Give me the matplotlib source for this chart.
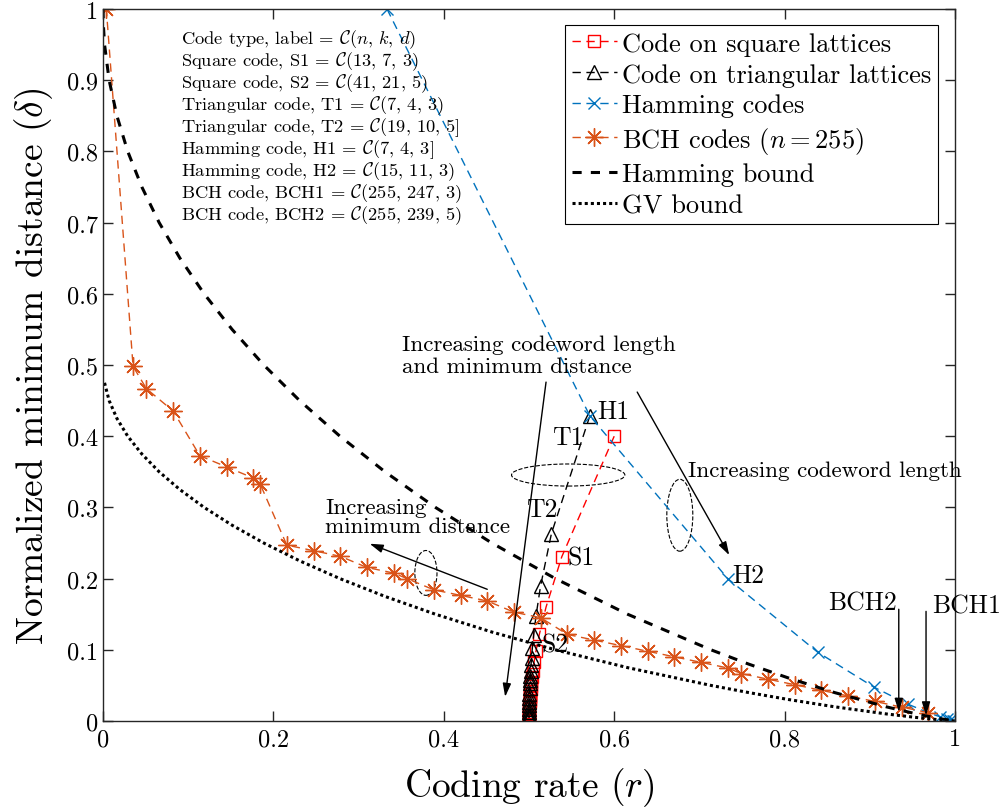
import numpy as np
import matplotlib
matplotlib.use("Agg")
import matplotlib.pyplot as plt
from matplotlib.patches import Ellipse
from matplotlib.ticker import FuncFormatter

plt.rcParams['font.family'] = 'serif'
plt.rcParams['font.serif'] = ['cmr10']
plt.rcParams['mathtext.fontset'] = 'cm'
plt.rcParams['axes.formatter.use_mathtext'] = True

# ---- data (rate r, normalized distance delta) ----
# codes on square lattices
sq_rate = [0.6000, 0.5385, 0.5200, 0.5122, 0.5082, 0.5059, 0.5044, 0.5034, 0.5028, 0.5023,
           0.5019, 0.5016, 0.5014, 0.5012, 0.5010, 0.5008, 0.5007, 0.5004, 0.5003, 0.5002,
           0.5001, 0.5001, 0.5000, 0.5000, 0.5000, 0.5000]
sq_delta = [0.4000, 0.2308, 0.1600, 0.1220, 0.0984, 0.0824, 0.0708, 0.0621, 0.0552, 0.0498,
            0.0453, 0.0415, 0.0384, 0.0356, 0.0333, 0.0294, 0.0263, 0.0208, 0.0172, 0.0128,
            0.0102, 0.0072, 0.0051, 0.0025, 0.0010, 0.0005]

# codes on triangular lattices
tri_rate = [0.5714, 0.5263, 0.5135, 0.5082, 0.5055, 0.5039, 0.5030, 0.5023, 0.5018, 0.5015,
            0.5013, 0.5011, 0.5008, 0.5005, 0.5004, 0.5003, 0.5002, 0.5001, 0.5001, 0.5000,
            0.5000, 0.5000]
tri_delta = [0.4286, 0.2632, 0.1892, 0.1475, 0.1209, 0.1024, 0.0888, 0.0783, 0.0701, 0.0634,
             0.0579, 0.0533, 0.0460, 0.0381, 0.0325, 0.0261, 0.0219, 0.0165, 0.0132, 0.0088,
             0.0066, 0.0044]

# Hamming codes
ham_rate = [0.3333, 0.5714, 0.7333, 0.8387, 0.9048, 0.9449, 0.9686, 0.9824, 0.9902, 0.9946,
            0.9971, 0.9984]
ham_delta = [1.0000, 0.4286, 0.2000, 0.0968, 0.0476, 0.0236, 0.0118, 0.0059, 0.0029, 0.0015,
             0.0007, 0.0004]

# BCH codes, n = 255
bch_rate = [0.9686, 0.9373, 0.9059, 0.8745, 0.8431, 0.8118, 0.7804, 0.7490, 0.7333, 0.7020,
            0.6706, 0.6392, 0.6078, 0.5765, 0.5451, 0.5137, 0.4824, 0.4510, 0.4196, 0.3882,
            0.3569, 0.3412, 0.3098, 0.2784, 0.2471, 0.2157, 0.1843, 0.1765, 0.1451, 0.1137,
            0.0824, 0.0510, 0.0353, 0.0039]
bch_delta = [0.0118, 0.0196, 0.0275, 0.0353, 0.0431, 0.0510, 0.0588, 0.0667, 0.0745, 0.0824,
             0.0902, 0.0980, 0.1059, 0.1137, 0.1216, 0.1451, 0.1529, 0.1686, 0.1765, 0.1843,
             0.2000, 0.2078, 0.2157, 0.2314, 0.2392, 0.2471, 0.3333, 0.3412, 0.3569, 0.3725,
             0.4353, 0.4667, 0.4980, 1.0000]

# bounds
hb_rate = [0.0000, 0.0003, 0.0018, 0.0072, 0.0163, 0.0290, 0.0456, 0.0659, 0.0903, 0.1187,
           0.1515, 0.1887, 0.2308, 0.2781, 0.3310, 0.3902, 0.4564, 0.5310, 0.6157, 0.7136,
           0.7577, 0.8056, 0.8586, 0.9192, 0.9546, 0.9792, 1.0000]
hb_delta = [1.000, 0.980, 0.950, 0.900, 0.850, 0.800, 0.750, 0.700, 0.650, 0.600,
            0.550, 0.500, 0.450, 0.400, 0.350, 0.300, 0.250, 0.200, 0.150, 0.100,
            0.080, 0.060, 0.040, 0.020, 0.010, 0.004, 0.000]

gv_rate = [0.0018, 0.0072, 0.0163, 0.0290, 0.0456, 0.0659, 0.0903, 0.1187,
           0.1515, 0.1887, 0.2308, 0.2781, 0.3310, 0.3902, 0.4564, 0.5310, 0.6157, 0.7136,
           0.7577, 0.8056, 0.8586, 0.9192, 0.9546, 0.9792, 1.0000]
gv_delta = [0.475, 0.450, 0.425, 0.400, 0.375, 0.350, 0.325, 0.300,
            0.275, 0.250, 0.225, 0.200, 0.175, 0.150, 0.125, 0.100, 0.075, 0.050,
            0.040, 0.030, 0.020, 0.010, 0.005, 0.002, 0.000]

info_lines = [
    r"Code type, label = $\mathcal{C}(n,\,k,\,d)$",
    r"Square code, S1 = $\mathcal{C}(13,\,7,\,3)$",
    r"Square code, S2 = $\mathcal{C}(41,\,21,\,5)$",
    r"Triangular code, T1 = $\mathcal{C}(7,\,4,\,3)$",
    r"Triangular code, T2 = $\mathcal{C}(19,\,10,\,5]$",
    r"Hamming code, H1 = $\mathcal{C}(7,\,4,\,3]$",
    r"Hamming code, H2 = $\mathcal{C}(15,\,11,\,3)$",
    r"BCH code, BCH1 = $\mathcal{C}(255,\,247,\,3)$",
    r"BCH code, BCH2 = $\mathcal{C}(255,\,239,\,5)$",
]

blue = (0, 0.447, 0.741)
orange = (0.85, 0.325, 0.098)

fig = plt.figure(figsize=(10.02, 8.12), dpi=100)
ax = fig.add_axes([0.1028, 0.1108, 0.8503, 0.8769])

ax.plot(sq_rate, sq_delta, color='red', ls='--', dashes=(6, 4), lw=1, marker='s',
        ms=9, mfc='none', mec='red', mew=1, label='Code on square lattices')
ax.plot(tri_rate, tri_delta, color='black', ls='--', dashes=(6, 4), lw=1, marker='^',
        ms=10, mfc='none', mec='black', mew=1, label='Code on triangular lattices')
ax.plot(ham_rate, ham_delta, color=blue, ls='--', dashes=(6, 4), lw=1, marker='x',
        ms=9, mew=1, label='Hamming codes')
ax.plot(bch_rate, bch_delta, color=orange, ls='--', dashes=(6, 4), lw=1, marker=(8, 2, 0),
        ms=13, mew=1, label=r'BCH codes ($n=255$)')
ax.plot(hb_rate, hb_delta, color='black', ls='--', dashes=(3, 3), lw=2.2, label='Hamming bound')
ax.plot(gv_rate, gv_delta, color='black', ls=':', dashes=(1, 1), lw=2.2, label='GV bound')

ax.set_xlim(0, 1)
ax.set_ylim(0, 1)
ax.set_xticks([0, 0.2, 0.4, 0.6, 0.8, 1])
ax.set_yticks(np.arange(0, 1.01, 0.1))
fmt = FuncFormatter(lambda v, p: '%g' % round(v, 2))
ax.xaxis.set_major_formatter(fmt)
ax.yaxis.set_major_formatter(fmt)
ax.tick_params(direction='in', top=True, right=True, length=7, width=1,
               labelsize=17.5, colors=(0.15, 0.15, 0.15), labelcolor='black')
ax.tick_params(axis='x', pad=5)
for s in ax.spines.values():
    s.set_color((0.15, 0.15, 0.15))
    s.set_linewidth(1)

ax.set_xlabel(r'Coding rate ($r$)', fontsize=27, labelpad=11)
ax.set_ylabel(r'Normalized minimum distance ($\delta$)', fontsize=27, labelpad=9)

leg = ax.legend(loc='upper right', bbox_to_anchor=(0.98, 0.977), fontsize=19,
                handlelength=1.7, handletextpad=0.2, borderpad=0.25, labelspacing=0.27,
                borderaxespad=0, fancybox=False, framealpha=1, edgecolor='black')
leg.get_frame().set_linewidth(0.8)

# info block
for i, t in enumerate(info_lines):
    ax.text(0.0915, 0.958 - i * 0.0309, t, fontsize=13.3, va='center', ha='left')

# point labels
lbl = dict(fontsize=18.5, va='center', ha='left')
ax.text(0.580, 0.435, 'H1', **lbl)
ax.text(0.527, 0.399, 'T1', **lbl)
ax.text(0.497, 0.298, 'T2', **lbl)
ax.text(0.545, 0.230, 'S1', **lbl)
ax.text(0.515, 0.107, 'S2', **lbl)
ax.text(0.739, 0.205, 'H2', **lbl)
ax.text(0.851, 0.166, 'BCH2', **lbl)
ax.text(0.973, 0.162, 'BCH1', clip_on=False, **lbl)

# annotations
ax.text(0.351, 0.514, 'Increasing codeword length\nand minimum distance', fontsize=16.6,
        va='center', ha='left', linespacing=1.15)
ax.text(0.687, 0.3525, 'Increasing codeword length', fontsize=16.6, va='center', ha='left')
ax.text(0.2606, 0.287, 'Increasing\nminimum distance', fontsize=16.6, va='center', ha='left',
        linespacing=1.0)

arr = dict(arrowstyle='-|>,head_length=0.8,head_width=0.25', color='black', lw=1,
           shrinkA=0, shrinkB=0)
ax.annotate('', xy=(0.472, 0.034), xytext=(0.520, 0.476), arrowprops=arr)
ax.annotate('', xy=(0.735, 0.233), xytext=(0.627, 0.462), arrowprops=arr)
ax.annotate('', xy=(0.313, 0.249), xytext=(0.451, 0.185), arrowprops=arr)
ax.annotate('', xy=(0.934, 0.013), xytext=(0.934, 0.157), arrowprops=arr)
ax.annotate('', xy=(0.966, 0.008), xytext=(0.966, 0.154), arrowprops=arr)

# dashed ellipses
for cx, cy, w, h in [(0.546, 0.3455, 0.133, 0.031), (0.677, 0.289, 0.0305, 0.101),
                     (0.379, 0.208, 0.026, 0.063)]:
    ax.add_patch(Ellipse((cx, cy), w, h, fill=False, ls='--', lw=0.8, ec='black'))

fig.savefig('out.png', dpi=100)
